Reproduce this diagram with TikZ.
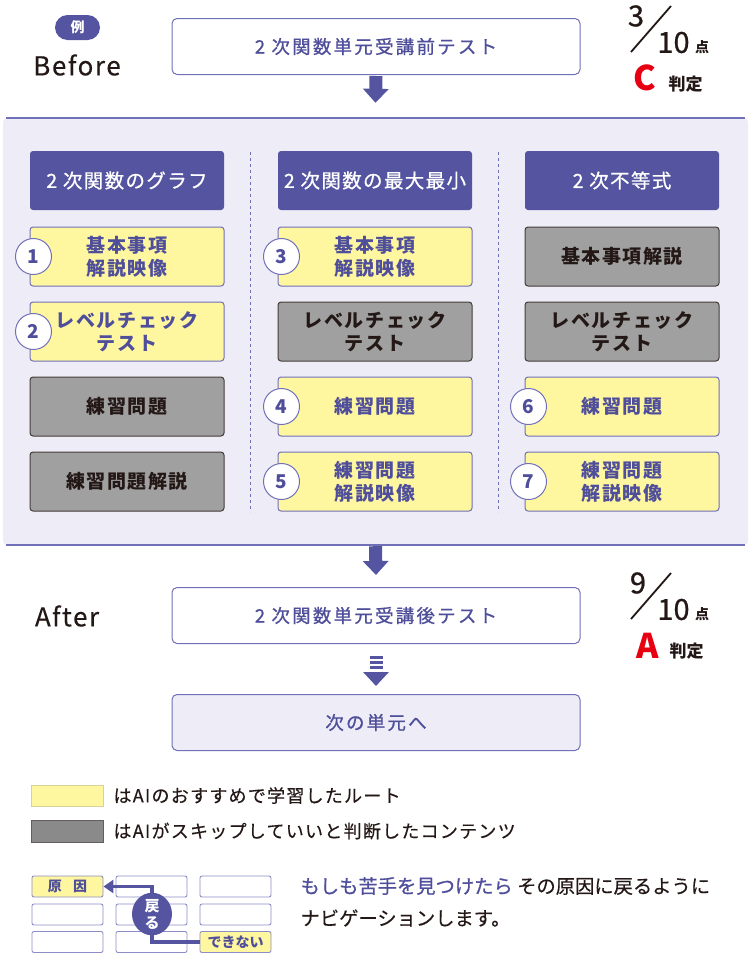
\documentclass[tikz,border=0pt]{standalone}
\usepackage{fontspec}
\setmainfont{Noto Sans CJK JP}
\newfontfamily\jpls{Noto Sans CJK JP}[LetterSpace=8]
\newfontfamily\jpm{Noto Sans CJK JP}[FakeBold=0.8]
\newfontfamily\jpr{Noto Sans CJK JP}[FakeBold=0.35]
\newfontfamily\jprl{Noto Sans CJK JP}[FakeBold=0.35,LetterSpace=7]
\newfontfamily\jpmls{Noto Sans CJK JP}[FakeBold=0.8,LetterSpace=7]
\newfontfamily\jpmt{Noto Sans CJK JP}[FakeBold=0.8,LetterSpace=12]
\newfontfamily\latw{Noto Sans CJK JP}[FakeBold=0.3,LetterSpace=6]
\usetikzlibrary{arrows.meta,shapes.geometric}
\definecolor{purp}{RGB}{84,84,160}
\definecolor{ptxt}{RGB}{78,78,155}
\definecolor{bpur}{RGB}{112,112,184}
\definecolor{lbg}{RGB}{238,237,247}
\definecolor{yel}{RGB}{255,246,160}
\definecolor{gry}{RGB}{160,160,160}
\definecolor{dk}{RGB}{35,24,21}
\definecolor{lgry}{RGB}{138,138,138}
\definecolor{redc}{RGB}{230,0,18}
\tikzset{
  cell/.style={minimum width=194pt, minimum height=59pt, rounded corners=3pt, line width=1pt, align=center, inner sep=0pt, font=\jpls\bfseries\fontsize{19}{23}\selectfont},
  ycell/.style={cell, fill=yel, draw=bpur, text=ptxt},
  gcell/.style={cell, fill=gry, draw=dk!85, text=dk},
  hcell/.style={cell, fill=purp, draw=none, text=white, font=\jpmls\fontsize{19.5}{23}\selectfont},
  numc/.style={circle, fill=white, draw=bpur, line width=1pt, minimum size=36pt, inner sep=0pt, text=ptxt, font=\bfseries\fontsize{19}{19}\selectfont},
  titlebox/.style={minimum width=408pt, minimum height=56pt, rounded corners=5pt, draw=bpur, line width=1pt, fill=white, text=ptxt, font=\jpmt\fontsize{18.5}{18.5}\selectfont},
  blockarr/.style={draw=purp, line width=13pt, -{Triangle[width=25pt,length=14pt]}},
  mini/.style={minimum width=71pt, minimum height=21pt, rounded corners=2pt, draw=bpur!80, line width=0.9pt, fill=white, inner sep=0pt},
  legtxt/.style={anchor=west, text=dk, font=\jprl\fontsize{18}{18}\selectfont},
  digit/.style={text=dk, font=\jpm\fontsize{#1}{#1}\selectfont}
}
\begin{document}
\begin{tikzpicture}[x=1pt,y=-1pt]
\useasboundingbox (0,0) rectangle (750,956);
% Before header
\node[fill=purp, minimum width=45pt, minimum height=25pt, rounded corners=12.5pt, inner sep=0pt, text=white, font=\bfseries\fontsize{14}{14}\selectfont] (rei) at (77.5,27.5) {例};
\node[text=dk, font=\latw\fontsize{26}{26}\selectfont] (before) at (77,65) {Before};
\node[titlebox] (pre) at (376,46.5) {2 次関数単元受講前テスト};
% score before
\node[digit=29] (s3) at (636,16) {3};
\draw[dk, line width=1.8pt] (631,52) -- (671,6);
\node[digit=29] (s10) at (673.5,42.5) {10};
\node[text=dk, font=\bfseries\fontsize{14}{14}\selectfont] (ten1) at (702,47) {点};
\node[text=redc, font=\bfseries\fontsize{34}{34}\selectfont] (gc) at (645,78) {C};
\node[text=dk, font=\bfseries\fontsize{17}{17}\selectfont] (hj1) at (685.5,84) {判定};
% big box
\node[fill=lbg, minimum width=745pt, minimum height=427pt, rounded corners=4pt, inner sep=0pt] (bigbox) at (375.5,331.5) {};
\draw[bpur, line width=1.5pt] ([xshift=3pt]bigbox.north west) -- ([xshift=-3pt]bigbox.north east);
\draw[bpur, line width=1.5pt] ([xshift=3pt]bigbox.south west) -- ([xshift=-3pt]bigbox.south east);
\draw[blockarr] ([yshift=-1pt]pre.south) -- ([yshift=15pt]bigbox.north);
% separators
\draw[bpur, dashed, line width=0.8pt] (250,152) -- (250,512);
\draw[bpur, dashed, line width=0.8pt] (498,152) -- (498,512);
% column 1
\node[hcell] (h1) at (127,180.5) {2 次関数のグラフ};
\node[ycell] (c11) at (127,256.5) {基本事項\\解説映像};
\node[ycell] (c12) at (127,331.5) {レベルチェック\\テスト};
\node[gcell] (c13) at (127,406.5) {練習問題};
\node[gcell] (c14) at (127,481.5) {練習問題解説};
% column 2
\node[hcell] (h2) at (375,180.5) {2 次関数の最大最小};
\node[ycell] (c21) at (375,256.5) {基本事項\\解説映像};
\node[gcell] (c22) at (375,331.5) {レベルチェック\\テスト};
\node[ycell] (c23) at (375,406.5) {練習問題};
\node[ycell] (c24) at (375,481.5) {練習問題\\解説映像};
% column 3
\node[hcell] (h3) at (622,180.5) {2 次不等式};
\node[gcell] (c31) at (622,256.5) {基本事項解説};
\node[gcell] (c32) at (622,331.5) {レベルチェック\\テスト};
\node[ycell] (c33) at (622,406.5) {練習問題};
\node[ycell] (c34) at (622,481.5) {練習問題\\解説映像};
% number circles
\node[numc] (n1) at ([xshift=4pt]c11.west) {1};
\node[numc] (n2) at ([xshift=4pt]c12.west) {2};
\node[numc] (n3) at ([xshift=4pt]c21.west) {3};
\node[numc] (n4) at ([xshift=4pt]c23.west) {4};
\node[numc] (n5) at ([xshift=4pt]c24.west) {5};
\node[numc] (n6) at ([xshift=4pt]c33.west) {6};
\node[numc] (n7) at ([xshift=4pt]c34.west) {7};
% After
\node[text=dk, font=\latw\fontsize{26}{26}\selectfont] (after) at (67,616) {After};
\node[titlebox] (post) at (376,615.5) {2 次関数単元受講後テスト};
\draw[blockarr] ([yshift=-1pt]bigbox.south) -- ([yshift=12pt]post.north);
\node[titlebox, fill=lbg] (next) at (376,722.5) {次の単元へ};
\draw[blockarr, dash pattern=on 3pt off 2.2pt] ([yshift=-12pt]post.south) -- ([yshift=8pt]next.north);
% score after
\node[digit=29] (s9) at (638,583) {9};
\draw[dk, line width=1.8pt] (631,619) -- (671,573);
\node[digit=29] (s10b) at (673.5,609.5) {10};
\node[text=dk, font=\bfseries\fontsize{14}{14}\selectfont] (ten2) at (702,614) {点};
\node[text=redc, font=\bfseries\fontsize{34}{34}\selectfont] (ga) at (648,646) {A};
\node[text=dk, font=\bfseries\fontsize{17}{17}\selectfont] (hj2) at (686.5,651) {判定};
% legend
\node[fill=yel, draw=yel!70!gray, line width=0.8pt, minimum width=72pt, minimum height=21pt, inner sep=0pt] (ly) at (67,795.5) {};
\node[legtxt] (lyt) at (110,795.5) {はAIのおすすめで学習したルート};
\node[fill=lgry, draw=dk!70, line width=0.8pt, minimum width=72pt, minimum height=22pt, inner sep=0pt] (lg) at (67,831) {};
\node[legtxt] (lgt) at (110,831) {はAIがスキップしていいと判断したコンテンツ};
% mini grid
\node[mini, fill=yel, text=ptxt, font=\bfseries\fontsize{14}{14}\selectfont] (m11) at (67.5,886.5) {原\hspace{0.8em}因};
\node[mini] (m21) at (151.5,886.5) {};
\node[mini] (m31) at (235.5,886.5) {};
\node[mini] (m12) at (67.5,914.5) {};
\node[mini] (m22) at (151.5,914.5) {};
\node[mini] (m32) at (235.5,914.5) {};
\node[mini] (m13) at (67.5,942) {};
\node[mini] (m23) at (151.5,942) {};
\node[mini, fill=yel, text=ptxt, font=\bfseries\fontsize{14}{14}\selectfont] (m33) at (235.5,942) {できない};
\coordinate (tp) at (152,886.5);
\draw[purp, line width=3.5pt, -{Triangle[width=13pt,length=10pt]}] (m33.west) -| (tp) -- (m11.east);
\node[ellipse, fill=purp, minimum width=40pt, minimum height=42pt, inner sep=0pt, text=white, align=center, font=\bfseries\fontsize{15}{17}\selectfont] (modoru) at (152,914) {戻\\る};
\node[anchor=west, text=dk, font=\jpr\fontsize{19.3}{19.3}\selectfont] (t1) at (297,886) {\textcolor{ptxt}{\jpm もしも苦手を見つけたら} その原因に戻るように};
\node[anchor=west, text=dk, font=\jpr\fontsize{19.3}{19.3}\selectfont] (t2) at (297,918) {ナビゲーションします。};
\end{tikzpicture}
\end{document}
